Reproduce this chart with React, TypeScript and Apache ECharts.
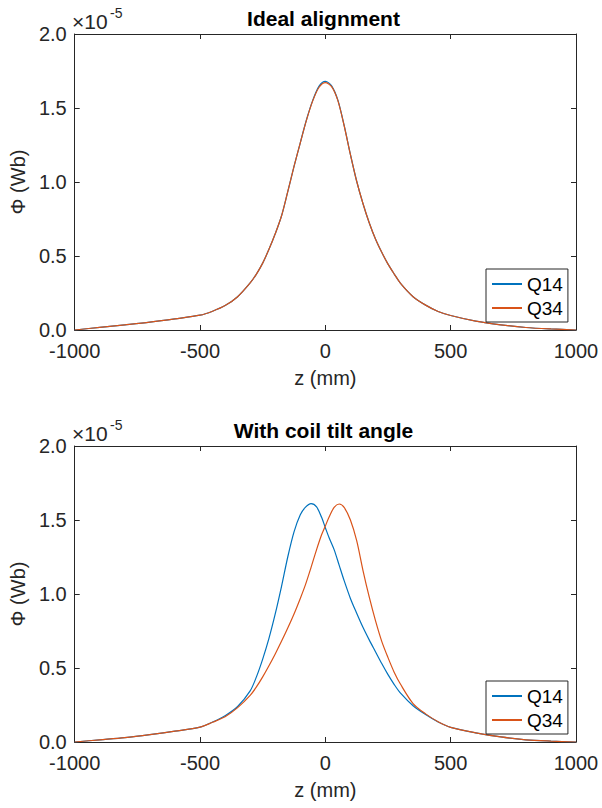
import React, { useEffect, useRef } from "react";
import * as echarts from "echarts";

// z positions (mm)
const zIdeal = [-1000, -900, -800, -700, -600, -500, -450, -400, -350, -300, -275, -250, -225, -200, -175, -150, -125, -100, -75, -50, -25, 0, 25, 50, 75, 100, 125, 150, 175, 200, 225, 250, 275, 300, 350, 400, 450, 500, 600, 700, 800, 900, 1000];
// Flux values in units of 1e-5 Wb
const q14Ideal = [0, 0.018, 0.035, 0.053, 0.075, 0.1, 0.127, 0.165, 0.225, 0.318, 0.378, 0.452, 0.545, 0.65, 0.77, 0.935, 1.105, 1.265, 1.422, 1.553, 1.648, 1.68, 1.65, 1.553, 1.382, 1.186, 1.005, 0.855, 0.725, 0.615, 0.525, 0.445, 0.378, 0.315, 0.225, 0.168, 0.125, 0.098, 0.06, 0.035, 0.017, 0.007, 0];
const q34Ideal = [0, 0.018, 0.035, 0.053, 0.075, 0.1, 0.127, 0.165, 0.225, 0.318, 0.378, 0.452, 0.545, 0.65, 0.77, 0.935, 1.105, 1.265, 1.42, 1.55, 1.64, 1.672, 1.645, 1.55, 1.38, 1.185, 1.005, 0.855, 0.725, 0.615, 0.525, 0.445, 0.378, 0.315, 0.225, 0.168, 0.125, 0.098, 0.06, 0.035, 0.017, 0.007, 0];

const zTilt = [-1000, -900, -800, -700, -600, -500, -450, -400, -350, -300, -275, -250, -225, -200, -175, -150, -125, -100, -80, -57, -35, -15, 0, 15, 35, 55, 75, 100, 125, 150, 175, 200, 225, 250, 275, 300, 350, 400, 450, 500, 600, 700, 800, 900, 1000];
const q14Tilt = [0, 0.015, 0.03, 0.05, 0.073, 0.1, 0.135, 0.178, 0.24, 0.345, 0.44, 0.56, 0.7, 0.865, 1.05, 1.25, 1.42, 1.535, 1.585, 1.61, 1.588, 1.518, 1.448, 1.38, 1.3, 1.195, 1.09, 0.97, 0.87, 0.775, 0.69, 0.61, 0.53, 0.455, 0.388, 0.33, 0.245, 0.185, 0.135, 0.099, 0.062, 0.034, 0.015, 0.006, 0];
const q34Tilt = [0, 0.015, 0.03, 0.05, 0.073, 0.1, 0.133, 0.17, 0.232, 0.315, 0.372, 0.44, 0.515, 0.595, 0.68, 0.77, 0.865, 0.97, 1.06, 1.18, 1.3, 1.4, 1.46, 1.52, 1.585, 1.608, 1.585, 1.5, 1.36, 1.16, 0.98, 0.82, 0.68, 0.57, 0.47, 0.39, 0.26, 0.19, 0.137, 0.099, 0.062, 0.034, 0.015, 0.006, 0];

const titles = ["Ideal alignment", "With coil tilt angle"];
const seriesNames = ["Q14", "Q34"];
const colors = ["#0072BD", "#D95319"];

const FONT = "'Liberation Sans', Arial, Helvetica, sans-serif";
const AX = "#262626";

export default function App() {
  const ref = useRef<HTMLDivElement>(null);
  useEffect(() => {
    if (!ref.current) return;
    const chart = echarts.init(ref.current, undefined, { renderer: "svg" });
    const grids = [
      { left: 71, top: 34, width: 505, height: 296 },
      { left: 71, top: 446, width: 505, height: 296 },
    ];
    const xAxes: any[] = [];
    const yAxes: any[] = [];
    grids.forEach((g, gi) => {
      const base = {
        gridIndex: gi,
        type: "value",
        axisLine: { show: true, onZero: false, lineStyle: { color: AX, width: 1 } },
        axisTick: { show: true, inside: true, length: 5, lineStyle: { color: AX } },
        splitLine: { show: false },
      };
      xAxes.push({
        ...base,
        position: "bottom",
        min: -1000,
        max: 1000,
        interval: 500,
        axisLabel: {
          show: true,
          margin: 11,
          fontSize: 20,
          fontFamily: FONT,
          color: AX,
          showMinLabel: true,
          showMaxLabel: true,
          formatter: (v: number) => String(v),
        },
        name: "z (mm)",
        nameLocation: "middle",
        nameGap: 38,
        nameTextStyle: { fontSize: 20, fontFamily: FONT, color: AX },
      });
      xAxes.push({
        ...base,
        position: "top",
        min: -1000,
        max: 1000,
        interval: 500,
        axisLabel: { show: false },
      });
      yAxes.push({
        ...base,
        position: "left",
        min: 0,
        max: 2,
        interval: 0.5,
        axisLabel: {
          show: true,
          margin: 8,
          fontSize: 20,
          fontFamily: FONT,
          color: AX,
          showMinLabel: true,
          showMaxLabel: true,
          formatter: (v: number) => v.toFixed(1),
        },
        name: "Φ (Wb)",
        nameLocation: "middle",
        nameGap: 45,
        nameTextStyle: { fontSize: 20, fontFamily: FONT, color: AX },
      });
      yAxes.push({
        ...base,
        position: "right",
        min: 0,
        max: 2,
        interval: 0.5,
        axisLabel: { show: false },
      });
    });

    const mk = (z: number[], v: number[]) => z.map((zz, i) => [zz, v[i]]);
    const sets = [
      [mk(zIdeal, q14Ideal), mk(zIdeal, q34Ideal)],
      [mk(zTilt, q14Tilt), mk(zTilt, q34Tilt)],
    ];
    const series: any[] = [];
    sets.forEach((pair, gi) => {
      pair.forEach((data, si) => {
        series.push({
          type: "line",
          name: seriesNames[si],
          xAxisIndex: gi * 2,
          yAxisIndex: gi * 2,
          data,
          showSymbol: false,
          symbol: "none",
          smooth: 0.3,
          lineStyle: { color: colors[si], width: 1.2 },
          itemStyle: { color: colors[si] },
        });
      });
    });

    const legendBase = {
      orient: "vertical",
      left: 486,
      icon: "rect",
      itemWidth: 30,
      itemHeight: 2,
      itemGap: 4,
      padding: [5, 5, 4, 6],
      borderColor: AX,
      borderWidth: 1,
      borderRadius: 0,
      backgroundColor: "#ffffff",
      data: seriesNames,
      textStyle: { fontSize: 19, fontFamily: FONT, color: "#000", lineHeight: 20 },
      selectedMode: false,
    };

    const graphic: any[] = [];
    grids.forEach((g, gi) => {
      const off = gi * 412;
      graphic.push({
        type: "text",
        x: 323.5,
        y: 18 + off,
        style: {
          text: titles[gi],
          fontSize: 21,
          fontWeight: "bold",
          fontFamily: FONT,
          fill: "#000",
          align: "center",
          verticalAlign: "middle",
        },
      });
      graphic.push({
        type: "text",
        x: 72,
        y: 21 + off,
        style: {
          text: "×10",
          fontSize: 21,
          fontFamily: FONT,
          fill: AX,
          align: "left",
          verticalAlign: "middle",
        },
      });
      graphic.push({
        type: "text",
        x: 110,
        y: 13 + off,
        style: {
          text: "-5",
          fontSize: 14,
          fontFamily: FONT,
          fill: AX,
          align: "left",
          verticalAlign: "middle",
        },
      });
    });

    chart.setOption({
      animation: false,
      backgroundColor: "#ffffff",
      grid: grids,
      xAxis: xAxes,
      yAxis: yAxes,
      series,
      legend: [
        { ...legendBase, top: 269 },
        { ...legendBase, top: 681 },
      ],
      graphic,
    });
    return () => chart.dispose();
  }, []);
  return (
    <div
      ref={ref}
      style={{ position: "fixed", left: 0, top: 0, width: 602, height: 808, background: "#fff" }}
    />
  );
}
